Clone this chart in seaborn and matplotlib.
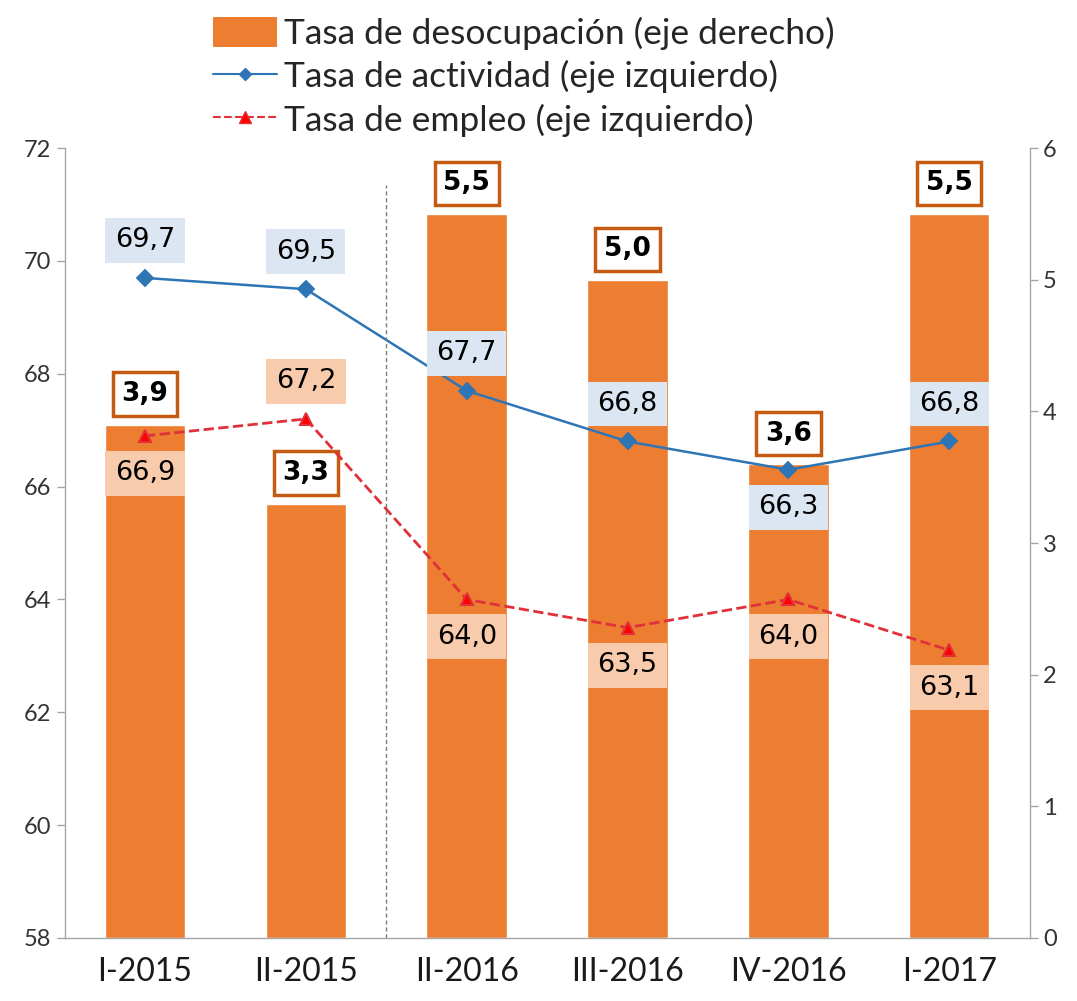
import matplotlib
matplotlib.use("Agg")
import numpy as np
import pandas as pd
import matplotlib.pyplot as plt
import seaborn as sns
from matplotlib.lines import Line2D
from matplotlib.patches import Patch

periodos = ["I-2015", "II-2015", "II-2016", "III-2016", "IV-2016", "I-2017"]
desocupacion = [3.9, 3.3, 5.5, 5.0, 3.6, 5.5]
actividad = [69.7, 69.5, 67.7, 66.8, 66.3, 66.8]
empleo = [66.9, 67.2, 64.0, 63.5, 64.0, 63.1]

# where each line label sits: +1 above the point, -1 below
lado_act = [1, 1, 1, 1, -1, 1]
lado_emp = [-1, 1, -1, -1, -1, -1]

df = pd.DataFrame({"periodo": periodos, "desocupacion": desocupacion,
                   "actividad": actividad, "empleo": empleo})

NARANJA = "#ED7D31"
AZUL = "#2E75B6"
ROJO = "#FF0000"
GRIS = "#A6A6A6"

sns.set_style("white")
plt.rcParams["font.family"] = ["Lato", "DejaVu Sans"]

fig, ax = plt.subplots(figsize=(10.77, 10.01), dpi=100)
fig.subplots_adjust(left=0.060, right=0.956, bottom=0.063, top=0.852)
ax2 = ax.twinx()

# bars on the right axis
sns.barplot(data=df, x="periodo", y="desocupacion", color=NARANJA, saturation=1,
            width=0.5, ax=ax2)

# lines on the left axis
sns.pointplot(data=df, x="periodo", y="actividad", color=AZUL, markers="D",
              linestyles="-", errorbar=None, ax=ax, linewidth=1.8, markersize=8)
sns.pointplot(data=df, x="periodo", y="empleo", color=ROJO, markers="^",
              linestyles="--", errorbar=None, ax=ax, linewidth=2, markersize=9)
for ln in ax.lines[-1:]:
    ln.set_color("#E0303A")
    ln.set_markerfacecolor(ROJO)

ax.set_zorder(ax2.get_zorder() + 1)
ax.patch.set_visible(False)

ax.set_ylim(58, 72)
ax.set_yticks(np.arange(58, 73, 2))
ax2.set_ylim(0, 6)
ax2.set_yticks(np.arange(0, 7, 1))
ax.set_xlim(-0.5, 5.5)
ax.set_xlabel("")
ax.set_ylabel("")
ax2.set_ylabel("")

ax.set_xticks(range(len(periodos)))
ax.set_xticklabels(periodos)
ax.set_xticks(np.arange(-0.5, len(periodos), 1), minor=True)
ax.tick_params(axis="x", which="major", length=0, pad=14, labelsize=23, labelcolor="#1a1a1a")
ax.tick_params(axis="x", which="minor", length=12, width=1, color=GRIS, direction="out")
ax.tick_params(axis="y", length=6, width=1, color=GRIS, direction="out", labelsize=17,
               labelcolor="#333333", left=True)
ax2.tick_params(axis="y", length=6, width=1, color=GRIS, direction="out", labelsize=17,
                labelcolor="#333333", right=True)

for a in (ax, ax2):
    a.spines["top"].set_visible(False)
    for s in ("left", "right", "bottom"):
        a.spines[s].set_color(GRIS)
        a.spines[s].set_linewidth(1)
ax.spines["right"].set_visible(False)
ax2.spines["left"].set_visible(False)
ax2.spines["bottom"].set_visible(False)

# divider between 2015 and 2016
ax.axvline(1.5, ymin=0, ymax=0.953, color="#7F7F7F", linestyle=(0, (3, 2)), linewidth=1)


def fmt(v):
    return f"{v:.1f}".replace(".", ",")


for i, v in enumerate(desocupacion):
    ax2.annotate(fmt(v), (i, v), xytext=(0, 22), textcoords="offset points",
                 ha="center", va="center", fontsize=19, fontweight="bold",
                 family="DejaVu Sans", color="black", zorder=5,
                 bbox=dict(boxstyle="square,pad=0.33", fc="white", ec="#C55A11", lw=2.5))

for i, v in enumerate(actividad):
    ax.annotate(fmt(v), (i, v), xytext=(0, 27 * lado_act[i]), textcoords="offset points",
                ha="center", va="center", fontsize=19.5, family="DejaVu Sans", color="black",
                bbox=dict(boxstyle="square,pad=0.35", fc="#DCE6F2", ec="none"))

for i, v in enumerate(empleo):
    ax.annotate(fmt(v), (i, v), xytext=(0, 27 * lado_emp[i]), textcoords="offset points",
                ha="center", va="center", fontsize=19.5, family="DejaVu Sans", color="black",
                bbox=dict(boxstyle="square,pad=0.35", fc="#F8CBAD", ec="none"))

handles = [
    Patch(facecolor=NARANJA, edgecolor="none"),
    Line2D([], [], color=AZUL, marker="D", markersize=6, linewidth=1.5),
    Line2D([], [], color="#E0303A", marker="^", markersize=8, markerfacecolor=ROJO,
           linestyle="--", linewidth=1.5),
]
labels = ["Tasa de desocupación (eje derecho)",
          "Tasa de actividad (eje izquierdo)",
          "Tasa de empleo (eje izquierdo)"]
fig.legend(handles, labels, loc="upper left", bbox_to_anchor=(0.178, 1.004),
           frameon=False, fontsize=25.5, handlelength=1.8, handleheight=0.9,
           handletextpad=0.2, labelspacing=0.28, borderpad=0.1)

fig.savefig("out.png", dpi=100)
